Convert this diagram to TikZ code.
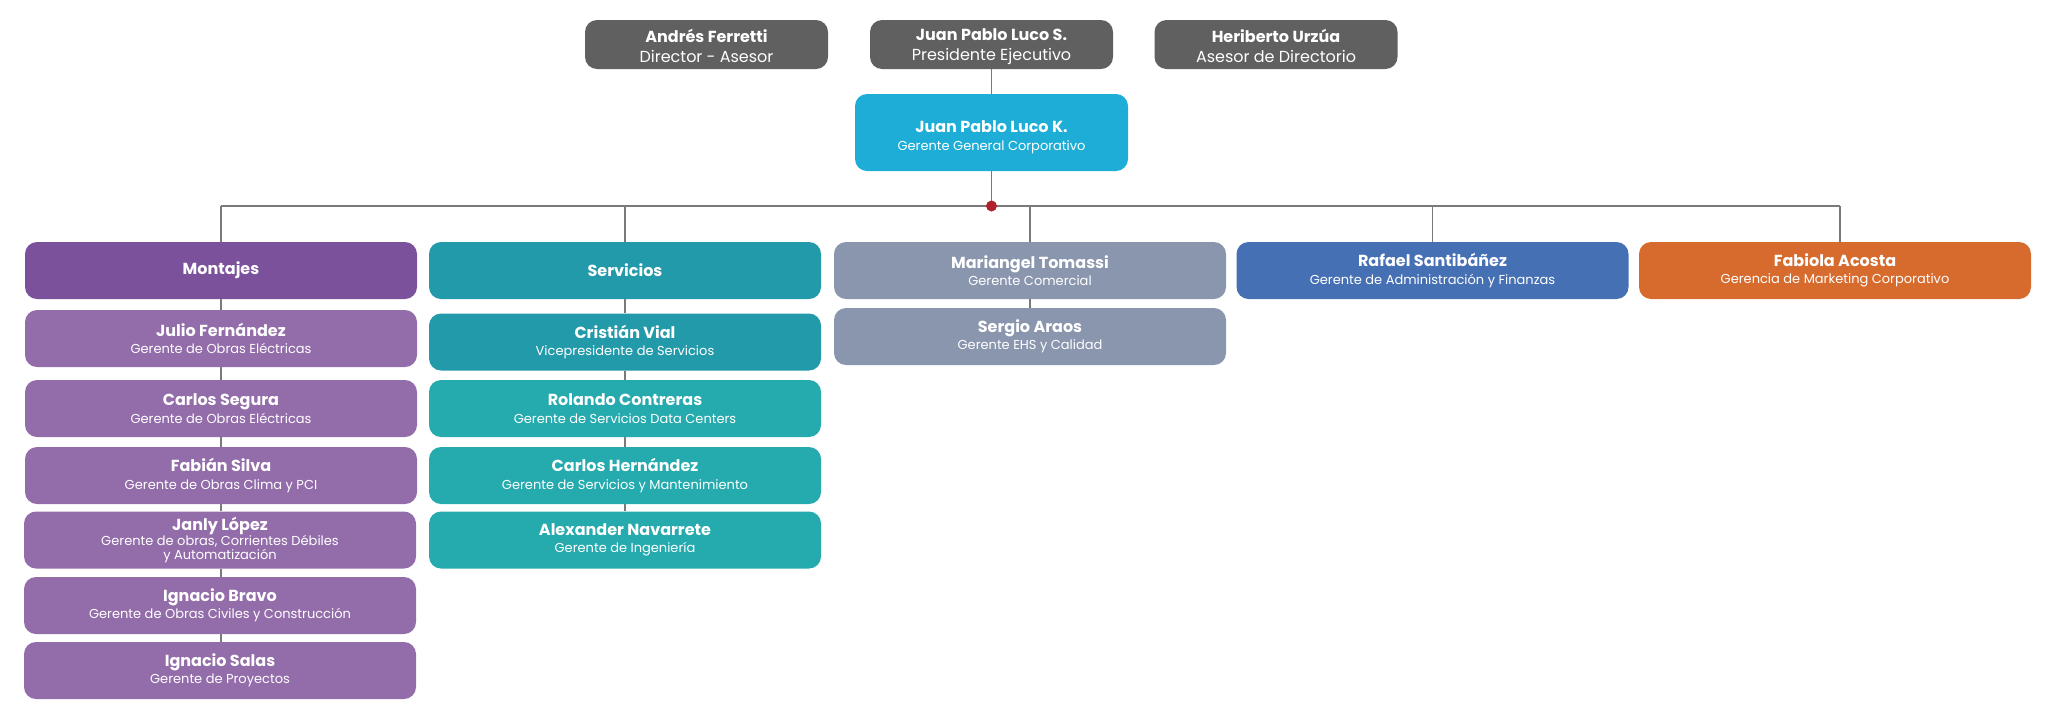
\documentclass[tikz,border=0pt]{standalone}
\usepackage{fontspec}
\setmainfont{Poppins}
\usetikzlibrary{backgrounds}
\definecolor{topgrey}{HTML}{606060}
\definecolor{ceo}{HTML}{1DADD6}
\definecolor{montH}{HTML}{7B519C}
\definecolor{montS}{HTML}{936CAA}
\definecolor{servH}{HTML}{239AAA}
\definecolor{servS}{HTML}{25AAAE}
\definecolor{comm}{HTML}{8A96AE}
\definecolor{admin}{HTML}{4670B4}
\definecolor{mkt}{HTML}{D76B2E}
\definecolor{dotred}{HTML}{B0202E}
\definecolor{linegrey}{HTML}{7A7A7A}
\tikzset{
  orgbox/.style={rectangle, rounded corners=12pt, minimum width=392pt, minimum height=57pt, inner sep=0pt, text=white, align=center, font=\fontsize{13}{17.5}\selectfont},
  topbox/.style={rectangle, rounded corners=12pt, fill=topgrey, minimum width=243pt, minimum height=49pt, inner sep=0pt, text=white, align=center, font=\fontsize{16}{20}\selectfont},
  conn/.style={draw=linegrey, line width=1.3pt},
}
\newcommand{\nm}[1]{{\fontsize{16}{17.5}\selectfont\bfseries #1}}
\begin{document}
\begin{tikzpicture}[x=1pt,y=-1pt]
\useasboundingbox (0,0) rectangle (2048,716);
% top row
\node[topbox] (af) at (706.5,44.5) {\rule{0pt}{16pt}{\bfseries Andrés Ferretti}\\Director - Asesor};
\node[topbox] (jps) at (991.5,44.5) {\rule{0pt}{16pt}{\bfseries Juan Pablo Luco S.}\\Presidente Ejecutivo};
\node[topbox] (hu) at (1276,44.5) {\rule{0pt}{16pt}{\bfseries Heriberto Urzúa}\\Asesor de Directorio};
\node[orgbox, fill=ceo, minimum width=273pt, minimum height=77pt, font=\fontsize{13}{18}\selectfont] (jpk) at (991.5,132.5) {\rule{0pt}{22pt}\nm{Juan Pablo Luco K.}\\Gerente General Corporativo};
\coordinate (dot) at (991.5,206);
% row 1
\node[orgbox, fill=montH] (mont) at (221,270.5) {\nm{Montajes}};
\node[orgbox, fill=servH] (serv) at (625,270.5) {\nm{Servicios}};
\node[orgbox, fill=comm] (mt) at (1030,270.5) {\nm{Mariangel Tomassi}\\Gerente Comercial};
\node[orgbox, fill=admin] (rs) at (1432.5,270.5) {\nm{Rafael Santibáñez}\\Gerente de Administración y Finanzas};
\node[orgbox, fill=mkt] (fa) at (1835,270.5) {\nm{Fabiola Acosta}\\Gerencia de Marketing Corporativo};
\coordinate (faTop) at ([xshift=5pt]fa.north);
% Montajes column
\node[orgbox, fill=montS] (jf) at (221,338.5) {\nm{Julio Fernández}\\Gerente de Obras Eléctricas};
\node[orgbox, fill=montS] (cs) at (221,408.5) {\nm{Carlos Segura}\\Gerente de Obras Eléctricas};
\node[orgbox, fill=montS] (fs) at (221,475.5) {\nm{Fabián Silva}\\Gerente de Obras Clima y PCI};
\node[orgbox, fill=montS, font=\fontsize{13}{14.5}\selectfont] (jl) at (220,540) {\nm{Janly López}\\Gerente de obras, Corrientes Débiles\\y Automatización};
\node[orgbox, fill=montS] (ib) at (220,605.5) {\nm{Ignacio Bravo}\\Gerente de Obras Civiles y Construcción};
\node[orgbox, fill=montS] (is) at (220,670.5) {\nm{Ignacio Salas}\\Gerente de Proyectos};
% Servicios column
\node[orgbox, fill=servH] (cv) at (625,342) {\nm{Cristián Vial}\\Vicepresidente de Servicios};
\node[orgbox, fill=servS] (rc) at (625,408.5) {\nm{Rolando Contreras}\\Gerente de Servicios Data Centers};
\node[orgbox, fill=servS] (ch) at (625,475.5) {\nm{Carlos Hernández}\\Gerente de Servicios y Mantenimiento};
\node[orgbox, fill=servS] (an) at (625,540) {\nm{Alexander Navarrete}\\Gerente de Ingeniería};
% Comercial column
\node[orgbox, fill=comm] (sa) at (1030,336.5) {\nm{Sergio Araos}\\Gerente EHS y Calidad};
\begin{pgfonlayer}{background}
\draw[conn] (jps.south) -- (jpk.north);
\draw[conn] (jpk.south) -- (dot);
\draw[conn] (mont.north |- dot) -- (faTop |- dot);
\foreach \b in {mont,serv,mt,rs} \draw[conn] (\b.north |- dot) -- (\b.north);
\draw[conn] (faTop |- dot) -- (faTop);
\draw[conn] (mont.south) -- (jf.north);
\draw[conn] (jf.south) -- (cs.north);
\draw[conn] (cs.south) -- (fs.north);
\draw[conn] (fs.south) -- (fs.south |- jl.north);
\draw[conn] (jl.south -| fs.south) -- (fs.south |- ib.north);
\draw[conn] (ib.south -| fs.south) -- (fs.south |- is.north);
\draw[conn] (serv.south) -- (cv.north);
\draw[conn] (cv.south) -- (rc.north);
\draw[conn] (rc.south) -- (ch.north);
\draw[conn] (ch.south) -- (an.north);
\draw[conn] (mt.south) -- (sa.north);
\end{pgfonlayer}
\fill[dotred] (dot) circle (5.5);
\end{tikzpicture}
\end{document}
